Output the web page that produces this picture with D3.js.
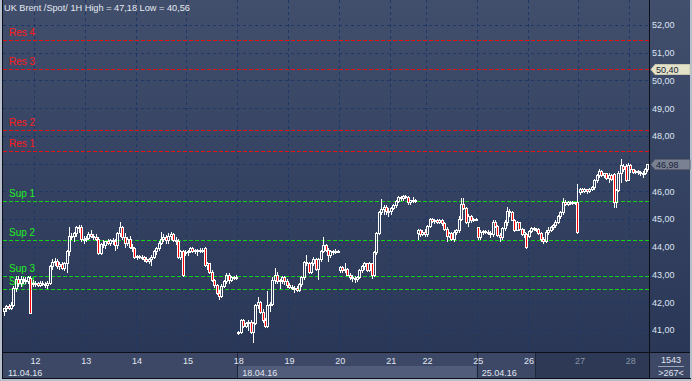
<!DOCTYPE html>
<html><head><meta charset="utf-8">
<script src="https://cdn.jsdelivr.net/npm/d3@7"></script>
<style>
html,body{margin:0;padding:0;background:#b7bfcc;}
svg{display:block;}
text{font-family:"Liberation Sans",Arial,sans-serif;}
</style></head><body><svg id="c" width="692" height="381"></svg>
<script>
const titleText = "UK Brent /Spot/ 1H High = 47,18 Low = 40,56";
const dayLabels = ["12","13","14","15","18","19","20","21","22","25","26","27","28"];
const dayStart  = [13,34,55,76,97,118,139,160,175,196,217,238,259];
const dimDays   = ["27","28"];
const weekLabels = ["11.04.16","18.04.16","25.04.16"];
const weekStart  = [0,97,196];
const gridPrices = [41,42,43,44,45,46,47,48,49,50,51,52];
const priceLabels = [41,42,43,44,45,46,48,49,50,51,52];
const levelNames  = ["Res 4","Res 3","Res 2","Res 1","Sup 1","Sup 2","Sup 3","Sup 4"];
const levelValues = [51.46,50.40,48.21,47.47,45.65,44.25,42.95,42.48];
const tagValues = [50.40,46.98];
const footTop = "1543", footBottom = ">267<";

const opens = [
41.70,41.78,41.85,41.80,41.90,42.50,42.85,42.70,42.85,42.80,42.75,42.86,42.65,
42.70,42.68,42.64,42.70,42.66,42.62,42.70,43.30,43.45,43.50,43.32,43.38,43.25,43.40,43.85,44.40,44.38,44.50,44.70,44.72,44.28,
44.30,44.33,44.48,44.40,44.36,44.30,43.78,44.10,44.05,44.20,44.15,44.25,44.20,44.05,44.50,44.70,44.35,44.15,44.30,44.00,43.95,
43.65,43.68,43.62,43.64,43.55,43.50,43.55,43.65,43.85,43.95,44.15,44.30,44.35,44.25,44.40,44.45,44.25,44.20,43.65,43.85,43.80,
43.82,43.85,43.95,43.85,43.88,43.85,43.90,43.95,43.35,43.40,43.10,42.80,42.62,42.35,42.22,42.60,42.75,43.00,42.80,42.90,42.92,
40.90,40.92,41.35,41.15,41.25,41.30,40.92,41.25,41.90,42.00,41.65,41.35,41.15,41.90,41.95,42.80,43.00,42.75,42.80,42.90,42.75,
42.62,42.55,42.52,42.50,42.45,42.65,42.90,43.45,43.40,43.10,43.40,43.55,43.20,43.55,43.85,44.05,43.90,43.70,43.84,43.86,43.85,
43.15,43.28,43.15,43.20,43.00,42.92,42.88,42.85,42.92,43.15,43.30,43.40,43.18,43.40,43.00,43.80,44.50,45.25,45.35,45.45,45.28,
45.30,45.40,45.50,45.65,45.80,45.75,45.82,45.80,45.60,45.68,45.65,44.50,44.60,44.45,44.55,
44.45,44.75,45.00,44.92,44.95,44.90,44.95,44.85,44.65,44.40,44.50,44.30,44.55,44.60,45.00,45.55,45.40,44.90,45.10,44.95,45.00,
44.70,44.35,44.52,44.56,44.55,44.50,44.45,44.90,44.75,44.42,44.35,44.68,44.88,45.30,45.25,44.98,44.62,44.88,44.65,44.47,44.45,
44.40,44.58,44.68,44.63,44.65,44.50,44.30,44.22,44.55,44.62,44.70,44.78,44.90,45.10,45.25,45.60,45.55,45.60,45.58,45.60,45.63,
45.98,46.08,46.02,46.08,46.00,46.10,46.15,46.40,46.58,46.75,46.60,46.65,46.50,46.58,46.62,45.60,46.05,46.65,46.90,46.90,46.42,
46.95,46.80,46.70,46.74,46.70,46.65,46.68,46.80];
const highs = [
41.80,41.90,41.95,42.00,42.60,42.95,42.95,42.95,42.92,42.90,42.95,42.95,42.80,
42.75,42.72,42.75,42.75,42.72,42.75,43.35,43.55,43.60,43.55,43.45,43.45,43.45,43.90,44.70,44.50,44.55,44.75,44.78,44.78,44.40,
44.38,44.55,44.60,44.48,44.45,44.35,44.15,44.25,44.22,44.28,44.30,44.32,44.30,44.55,44.90,44.75,44.50,44.35,44.40,44.10,44.00,
43.72,43.72,43.70,43.68,43.62,43.60,43.70,43.90,44.00,44.20,44.55,44.45,44.42,44.50,44.55,44.50,44.35,44.30,43.90,43.90,43.90,
43.90,44.00,44.00,43.92,43.92,43.95,43.96,43.98,43.45,43.42,43.15,42.85,42.65,42.45,42.65,42.80,43.05,43.05,42.95,42.95,42.97,
40.95,41.40,41.40,41.30,41.35,41.35,41.30,41.95,42.20,42.05,41.75,41.45,42.40,42.00,42.90,43.25,43.10,42.85,42.95,42.95,42.85,
42.70,42.62,42.60,42.58,42.70,42.95,43.50,43.70,43.45,43.45,43.65,43.58,43.60,43.90,44.35,44.10,43.95,43.88,43.90,43.92,43.90,
43.30,43.32,43.42,43.25,43.05,42.97,42.95,42.95,43.20,43.35,43.45,43.42,43.45,43.42,43.85,44.55,45.30,45.72,45.50,45.50,45.40,
45.45,45.55,45.70,45.85,45.85,45.88,45.88,45.85,45.70,45.78,45.72,44.65,44.65,44.60,44.65,
44.80,45.05,45.05,45.00,45.00,45.00,45.00,44.90,44.70,44.55,44.52,44.60,44.65,45.10,45.77,45.75,45.45,45.20,45.15,45.05,45.05,
44.72,44.60,44.60,44.60,44.60,44.58,44.97,44.95,44.80,44.50,44.72,44.95,45.45,45.38,45.30,45.00,44.92,44.90,44.68,44.65,44.50,
44.62,44.72,44.72,44.68,44.68,44.55,44.35,44.60,44.72,44.75,44.82,44.95,45.15,45.30,45.75,45.68,45.65,45.65,45.65,45.63,46.28,
46.12,46.12,46.12,46.10,46.12,46.18,46.45,46.62,46.82,46.78,46.68,46.68,46.65,46.62,46.65,46.10,46.75,47.18,46.98,46.98,47.02,
46.98,46.82,46.78,46.78,46.75,46.72,46.85,46.98];
const lows = [
41.54,41.70,41.75,41.75,41.85,42.40,42.60,42.60,42.70,42.70,42.70,41.60,42.60,
42.60,42.60,42.60,42.62,42.55,42.52,42.65,43.20,43.35,43.25,43.20,43.20,43.15,43.10,43.70,44.30,44.20,44.40,44.55,44.20,44.15,
44.20,44.28,44.35,44.30,44.25,43.75,43.75,44.00,43.95,44.10,44.05,44.10,43.88,43.95,44.40,44.30,44.00,44.05,43.95,43.85,43.60,
43.55,43.58,43.55,43.50,43.45,43.40,43.35,43.60,43.75,43.90,44.10,44.20,44.15,44.15,44.30,44.20,44.10,43.60,43.55,42.95,43.70,
43.72,43.80,43.82,43.78,43.72,43.80,43.82,43.30,43.20,43.05,42.75,42.55,42.30,42.12,42.20,42.55,42.70,42.70,42.75,42.85,42.85,
40.85,40.90,41.10,41.10,41.00,40.88,40.56,41.20,41.80,41.60,41.30,41.10,41.10,41.70,41.90,42.70,42.70,42.50,42.70,42.65,42.55,
42.50,42.48,42.36,42.40,42.42,42.60,42.85,43.35,43.05,43.05,43.35,43.15,42.85,43.50,43.80,43.85,43.50,43.65,43.75,43.78,43.80,
43.10,43.10,43.10,42.98,42.85,42.75,42.72,42.78,42.88,43.10,43.20,43.12,43.12,42.86,42.95,43.75,44.45,45.20,45.20,45.20,45.10,
45.20,45.35,45.45,45.60,45.70,45.70,45.75,45.55,45.55,45.60,45.62,44.30,44.40,44.42,44.40,
44.40,44.70,44.88,44.85,44.85,44.85,44.80,44.60,44.22,44.35,44.25,44.20,44.45,44.55,44.95,45.35,44.85,44.75,44.90,44.93,44.95,
44.30,44.30,44.48,44.50,44.45,44.34,44.40,44.70,44.38,44.20,44.30,44.60,44.80,45.10,44.95,44.58,44.60,44.60,44.42,44.35,43.95,
44.35,44.55,44.60,44.58,44.45,44.20,44.15,44.18,44.45,44.58,44.65,44.72,44.85,45.05,45.20,45.50,45.50,45.55,45.55,45.55,44.50,
45.92,45.98,45.98,45.95,45.98,46.05,46.10,46.35,46.52,46.55,46.52,46.45,46.35,46.40,45.45,45.45,46.00,46.35,46.75,46.38,46.40,
46.70,46.65,46.65,46.62,46.60,46.52,46.62,46.75];
const closes = [
41.80,41.85,41.80,41.90,42.50,42.85,42.70,42.85,42.80,42.75,42.90,41.62,42.70,
42.68,42.64,42.70,42.66,42.62,42.70,43.30,43.45,43.50,43.32,43.38,43.25,43.40,43.85,44.40,44.38,44.50,44.70,44.72,44.28,44.30,
44.33,44.48,44.40,44.36,44.30,43.78,44.10,44.05,44.20,44.15,44.25,44.20,44.05,44.50,44.70,44.35,44.15,44.30,44.00,43.95,43.65,
43.68,43.62,43.64,43.55,43.50,43.55,43.65,43.85,43.95,44.15,44.30,44.35,44.25,44.40,44.45,44.25,44.20,43.65,43.85,43.00,43.82,
43.85,43.95,43.85,43.88,43.85,43.90,43.85,43.35,43.40,43.10,42.80,42.62,42.35,42.22,42.60,42.75,43.00,42.80,42.90,42.92,42.90,
40.92,41.35,41.15,41.25,41.30,40.92,41.25,41.90,42.00,41.65,41.35,41.15,41.90,41.95,42.80,43.00,42.75,42.80,42.90,42.75,42.62,
42.55,42.52,42.50,42.45,42.65,42.90,43.45,43.40,43.10,43.40,43.55,43.20,43.55,43.85,44.05,43.90,43.70,43.84,43.86,43.85,43.86,
43.28,43.15,43.20,43.00,42.92,42.88,42.85,42.92,43.15,43.30,43.40,43.18,43.40,43.00,43.80,44.50,45.25,45.35,45.45,45.28,45.30,
45.40,45.50,45.65,45.80,45.75,45.82,45.80,45.60,45.68,45.65,45.70,44.60,44.45,44.55,44.45,
44.75,45.00,44.92,44.95,44.90,44.95,44.85,44.65,44.40,44.50,44.30,44.55,44.60,45.00,45.55,45.40,44.90,45.10,44.95,45.00,45.02,
44.35,44.52,44.56,44.55,44.50,44.45,44.90,44.75,44.42,44.35,44.68,44.88,45.30,45.25,44.98,44.62,44.88,44.65,44.47,44.52,43.98,
44.58,44.68,44.63,44.65,44.50,44.30,44.22,44.55,44.62,44.70,44.78,44.90,45.10,45.25,45.60,45.55,45.60,45.58,45.60,45.58,44.52,
46.08,46.02,46.08,46.00,46.10,46.15,46.40,46.58,46.75,46.60,46.65,46.50,46.58,46.45,45.60,46.05,46.65,46.95,46.80,46.42,46.95,
46.80,46.70,46.74,46.70,46.65,46.68,46.80,46.98];

const N = closes.length;
const svg = d3.select("#c");
const W = 692, H = 381;
const PL = 3, PR = 649, PB = 352, AB = 378;

const x = d3.scaleLinear().domain([0, N]).range([2.5, 648.6]);
const y = d3.scaleLinear().domain([41, 52]).range([330, 25]);
const fmt = v => d3.format(".2f")(v).replace(".", ",");

const defs = svg.append("defs");
const g1 = defs.append("linearGradient").attr("id","bg").attr("gradientUnits","userSpaceOnUse")
  .attr("x1",0).attr("y1",0).attr("x2",0).attr("y2",PB);
g1.append("stop").attr("offset","0%").attr("stop-color","#414f6d");
g1.append("stop").attr("offset","100%").attr("stop-color","#2a3757");
defs.append("clipPath").attr("id","plot").append("rect")
  .attr("x",PL).attr("y",0).attr("width",PR-PL).attr("height",PB);

// frame and backgrounds
svg.append("rect").attr("width",W).attr("height",H).attr("fill","#b7bfcc");
svg.append("rect").attr("x",PL).attr("y",0).attr("width",690-PL).attr("height",PB).attr("fill","url(#bg)");

// bottom axis panels
svg.append("rect").attr("x",PL).attr("y",PB).attr("width",690-PL).attr("height",AB-PB).attr("fill","#3c4866");
svg.append("rect").attr("x",x(weekStart[1])).attr("y",366).attr("width",x(weekStart[2])-x(weekStart[1])).attr("height",AB-366).attr("fill","#505c79");
svg.append("rect").attr("x",535).attr("y",PB).attr("width",PR-535).attr("height",AB-PB).attr("fill","#2d3955");

const crisp = svg.append("g").attr("shape-rendering","crispEdges");

// grid
const grid = crisp.append("g").attr("stroke","#1d3866").attr("stroke-width",1).attr("stroke-dasharray","3,3");
grid.selectAll("line.h").data(gridPrices).join("line").attr("class","h")
  .attr("x1",PL).attr("x2",PR).attr("y1",d=>Math.round(y(d))+0.5).attr("y2",d=>Math.round(y(d))+0.5);
grid.selectAll("line.v").data(dayStart).join("line").attr("class","v")
  .attr("y1",0).attr("y2",PB).attr("x1",d=>Math.round(x(d))+0.5).attr("x2",d=>Math.round(x(d))+0.5);

// week separators in axis band
crisp.selectAll("line.wk").data(weekStart.slice(1).map(d=>x(d)).concat([535])).join("line").attr("class","wk")
  .attr("x1",d=>Math.round(d)+0.5).attr("x2",d=>Math.round(d)+0.5).attr("y1",PB).attr("y2",AB)
  .attr("stroke","#1e273c");

// support / resistance levels
const lv = levelNames.map((n,i)=>({n, v:levelValues[i], res:n.startsWith("Res")}));
crisp.selectAll("line.lv").data(lv).join("line").attr("class","lv")
  .attr("x1",PL).attr("x2",PR).attr("y1",d=>Math.round(y(d.v))+0.5).attr("y2",d=>Math.round(y(d.v))+0.5)
  .attr("stroke",d=>d.res?"#e41414":"#14d214").attr("stroke-dasharray","4,2");
svg.selectAll("text.lv").data(lv).join("text").attr("class","lv")
  .attr("x",9).attr("y",d=>Math.round(y(d.v))-4)
  .attr("font-size","10px").attr("fill",d=>d.res?"#ff1a1a":"#22ee22").text(d=>d.n);

// candles
const data = d3.range(N).map(i=>({i,o:opens[i],h:highs[i],l:lows[i],c:closes[i]}));
const cg = svg.append("g").attr("clip-path","url(#plot)").attr("shape-rendering","crispEdges");
const cs = cg.selectAll("g.k").data(data).join("g").attr("class","k");
cs.each(function(d){
  const g = d3.select(this);
  const cx = Math.round(x(d.i+0.5));
  const top = Math.round(y(Math.max(d.o,d.c)));
  const bot = Math.max(Math.round(y(Math.min(d.o,d.c))), top+1);
  const hy = Math.round(y(d.h)), ly = Math.round(y(d.l));
  if (hy < top) g.append("line").attr("x1",cx+0.5).attr("x2",cx+0.5).attr("y1",hy).attr("y2",top).attr("stroke","#ffffff");
  if (ly > bot) g.append("line").attr("x1",cx+0.5).attr("x2",cx+0.5).attr("y1",bot).attr("y2",ly+1).attr("stroke","#ffffff");
  g.append("rect").attr("x",cx-0.5).attr("y",top+0.5).attr("width",2).attr("height",bot-top)
    .attr("fill",d.c<d.o?"#ff0000":"none").attr("stroke","#ffffff");
});

// right price axis (47,00 is hidden by the 46,98 tag in the original)
const ra = svg.append("g").attr("transform",`translate(${PR},0)`)
  .call(d3.axisRight(y).tickValues(priceLabels).tickSize(0).tickPadding(3).tickFormat(fmt));
ra.select(".domain").remove();
ra.selectAll("text").attr("font-size","9px").attr("font-family","Liberation Sans, Arial, sans-serif").attr("fill","#dde5f2");

// price tags
const tags = tagValues.map((v,i)=>({v,i}));
const tg = svg.selectAll("g.tag").data(tags).join("g").attr("class","tag");
tg.append("path").attr("d",d=>{const c=Math.round(y(d.v))+0.5;return `M651,${c} L655,${c-5} L690,${c-5} L690,${c+5} L655,${c+5} Z`;})
  .attr("fill",d=>d.i===0?"#e2e2c8":"#7a8192").attr("stroke",d=>d.i===0?"#c8c8b0":"#5a6070");
tg.append("text").attr("x",656).attr("y",d=>Math.round(y(d.v))+4)
  .attr("font-size","9px").attr("fill","#18213a").text(d=>fmt(d.v));

// bottom day axis
const ba = svg.append("g").attr("transform",`translate(0,${PB})`)
  .call(d3.axisBottom(x).tickValues(dayStart).tickSize(0).tickPadding(5.5).tickFormat((d,i)=>dayLabels[i]));
ba.select(".domain").remove();
ba.selectAll("text").attr("font-size","9px").attr("font-family","Liberation Sans, Arial, sans-serif").attr("dx",1)
  .attr("fill",(d,i)=>dimDays.includes(dayLabels[i])?"#8893a8":"#e0e6f0");

// week labels
svg.selectAll("text.wk").data(weekLabels).join("text").attr("class","wk")
  .attr("x",(d,i)=>Math.max(x(weekStart[i]),3)+5).attr("y",375.5)
  .attr("font-size","9px").attr("fill","#e0e6f0").text(d=>d);

// frame lines
const fr = svg.append("g").attr("shape-rendering","crispEdges").attr("stroke","#0c0f18");
fr.append("line").attr("x1",PL).attr("x2",690).attr("y1",PB+0.5).attr("y2",PB+0.5);
fr.append("line").attr("x1",PR+0.5).attr("x2",PR+0.5).attr("y1",0).attr("y2",AB);
fr.append("line").attr("x1",2.5).attr("x2",2.5).attr("y1",0).attr("y2",AB+1);
fr.append("line").attr("x1",2).attr("x2",691).attr("y1",AB+0.5).attr("y2",AB+0.5);

// footer box
svg.append("text").attr("x",671).attr("y",363).attr("text-anchor","middle").attr("font-size","9px").attr("fill","#e0e6f0").text(footTop);
svg.append("line").attr("x1",658).attr("x2",684).attr("y1",366.5).attr("y2",366.5).attr("stroke","#9aa3b5").attr("shape-rendering","crispEdges");
svg.append("text").attr("x",671).attr("y",375.5).attr("text-anchor","middle").attr("font-size","9px").attr("fill","#e0e6f0").text(footBottom);

// title
svg.append("text").attr("x",4).attr("y",11).attr("font-size","9.2px").attr("fill","#e6eaf2").text(titleText);
</script></body></html>
